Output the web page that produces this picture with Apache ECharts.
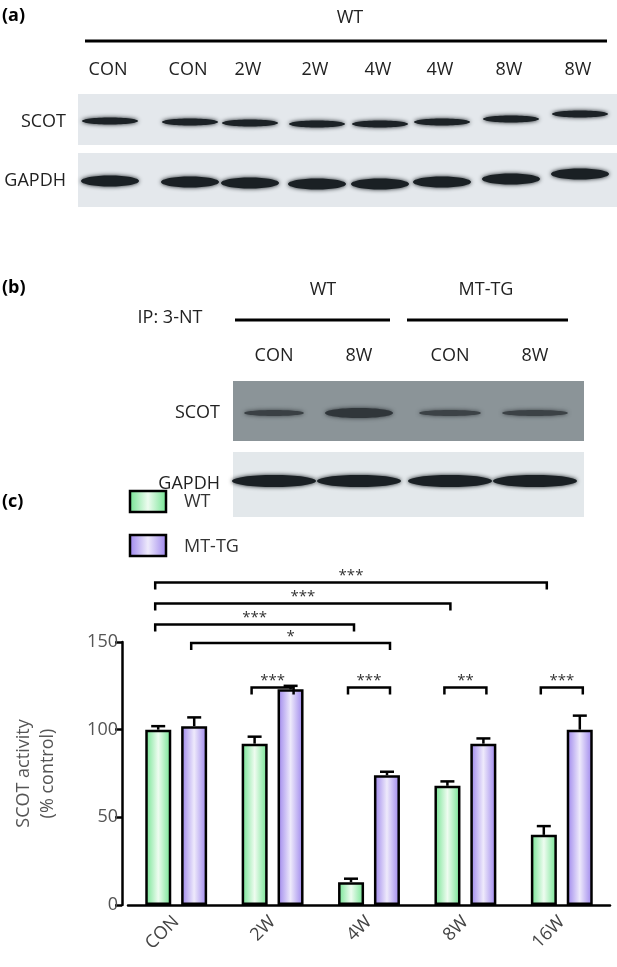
<!DOCTYPE html>
<html>
<head>
<meta charset="utf-8">
<script src="https://cdn.jsdelivr.net/npm/echarts@6/dist/echarts.min.js"></script>
<style>html,body{margin:0;padding:0;background:#fff}#main{width:617px;height:967px}</style>
</head>
<body>
<div id="main"></div>
<script>
// data
var categories = ['CON', '2W', '4W', '8W', '16W'];
var wtMean = [100, 92, 13, 68, 40];
var wtErr = [2, 4, 2, 2.5, 5];
var tgMean = [102, 123, 74, 92, 100];
var tgErr = [5, 2, 2, 3, 8];
var yTicks = [0, 50, 100, 150];
// brackets: [fromCat, fromSeries(0 WT / 1 TG), toCat, toSeries, y value, label]
var brackets = [
  [0, 0, 4, 0, 184, '***'],
  [0, 0, 3, 0, 172, '***'],
  [0, 0, 2, 0, 160, '***'],
  [0, 1, 2, 1, 149.5, '*'],
  [1, 0, 1, 1, 124, '***'],
  [2, 0, 2, 1, 124, '***'],
  [3, 0, 3, 1, 124, '**'],
  [4, 0, 4, 1, 124, '***']
];
var blotA = ['CON', 'CON', '2W', '2W', '4W', '4W', '8W', '8W'];
var blotB = ['CON', '8W', 'CON', '8W'];

var FONT = '"Open Sans", "Noto Sans", sans-serif';
var chart = echarts.init(document.getElementById('main'));

function grad(edge, mid) {
  return new echarts.graphic.LinearGradient(0, 0, 1, 0, [
    {offset: 0, color: edge}, {offset: 0.5, color: mid}, {offset: 1, color: edge}
  ]);
}
var green = grad('#6fe38f', '#eefcf0');
var purple = grad('#9a82ec', '#eeeafb');

// blot drawing helpers
var g = [];
function txt(x, y, s, opt) {
  opt = opt || {};
  g.push({type: 'text', x: x, y: y, style: {text: s, fill: opt.fill || '#222', fontFamily: FONT,
    fontWeight: opt.weight || 'normal', fontSize: opt.size || 18, align: opt.align || 'center', verticalAlign: 'middle'}});
}
function line(x1, y1, x2, y2, w) {
  g.push({type: 'line', shape: {x1: x1, y1: y1, x2: x2, y2: y2}, style: {stroke: '#000', lineWidth: w || 3}});
}
function rect(x, y, w, h, fill) {
  g.push({type: 'rect', shape: {x: x, y: y, width: w, height: h}, style: {fill: fill}});
}
function band(cx, cy, w, h, color) {
  g.push({type: 'ellipse', shape: {cx: cx, cy: cy, rx: w / 2, ry: h / 2}, style: {fill: color, shadowBlur: 4, shadowColor: color}});
}

// panel (a)
txt(2, 16, '(a)', {weight: 'bold', align: 'left', size: 18, fill: '#000'});
txt(350, 18, 'WT');
line(85, 41, 607, 41);
var aX = [108, 188, 248, 315, 378, 440, 509, 578];
var aScotY = [121, 122, 123, 124, 124, 122, 119, 114];
blotA.forEach(function (s, i) { txt(aX[i], 70, s); });
rect(78, 94, 539, 51, '#e4e8ec');
rect(78, 153, 539, 54, '#e4e8ec');
txt(66, 122, 'SCOT', {align: 'right'});
txt(66, 181, 'GAPDH', {align: 'right'});
aX.forEach(function (x, i) {
  band(x + 2, aScotY[i], 56, 7, '#1c2226');
  band(x + 2, aScotY[i] + 60, 58, 11, '#1a2024');
});

// panel (b)
txt(2, 288, '(b)', {weight: 'bold', align: 'left', size: 18, fill: '#000'});
txt(323, 290, 'WT');
txt(486, 290, 'MT-TG');
txt(170, 318, 'IP: 3-NT');
line(235, 320, 390, 320);
line(407, 320, 568, 320);
var bX = [274, 359, 450, 535];
blotB.forEach(function (s, i) { txt(bX[i], 356, s); });
rect(233, 381, 351, 60, '#8b9498');
rect(233, 452, 351, 65, '#e3e8eb');
txt(220, 413, 'SCOT', {align: 'right'});
txt(220, 484, 'GAPDH', {align: 'right'});
var bScot = [[60, 6, '#3a4044'], [68, 10, '#30363a'], [62, 6, '#3c4246'], [66, 6, '#3c4246']];
bX.forEach(function (x, i) {
  band(x, 413, bScot[i][0], bScot[i][1], bScot[i][2]);
  band(x, 481, 84, 12, '#1a2024');
});

// panel (c) labels + legend
txt(2, 502, '(c)', {weight: 'bold', align: 'left', size: 18, fill: '#000'});
g.push({type: 'rect', shape: {x: 130, y: 491, width: 36, height: 21}, style: {fill: green, stroke: '#000', lineWidth: 2.5}});
g.push({type: 'rect', shape: {x: 130, y: 535, width: 36, height: 21}, style: {fill: purple, stroke: '#000', lineWidth: 2.5}});
txt(184, 502, 'WT', {align: 'left', fill: '#333'});
txt(184, 547, 'MT-TG', {align: 'left', fill: '#333'});

var OFF = 18;
function errSeries(mean, err, side) {
  return {
    type: 'custom',
    z: 1,
    data: mean.map(function (m, i) { return [i, m, m + err[i]]; }),
    renderItem: function (params, api) {
      var p0 = api.coord([api.value(0), api.value(1)]);
      var p1 = api.coord([api.value(0), api.value(2)]);
      var x = p0[0] + side * OFF;
      return {type: 'group', children: [
        {type: 'line', shape: {x1: x, y1: p0[1], x2: x, y2: p1[1]}, style: {stroke: '#000', lineWidth: 2.5}},
        {type: 'line', shape: {x1: x - 7, y1: p1[1], x2: x + 7, y2: p1[1]}, style: {stroke: '#000', lineWidth: 2.5}}
      ]};
    }
  };
}

var option = {
  animation: false,
  graphic: g,
  grid: {left: 128, right: 7, top: 642, bottom: 62},
  xAxis: {
    type: 'category', data: categories,
    axisLine: {lineStyle: {color: '#000', width: 2.5}},
    axisTick: {alignWithLabel: true, length: 10, lineStyle: {color: '#000', width: 2.5}},
    axisLabel: {rotate: 45, color: '#444', fontSize: 18, fontFamily: FONT, margin: 14}
  },
  yAxis: {
    type: 'value', min: 0, max: 150, interval: 50, offset: 6,
    name: 'SCOT activity\n(% control)', nameLocation: 'middle', nameGap: 62,
    nameTextStyle: {color: '#555', fontSize: 18, fontFamily: FONT, lineHeight: 24},
    axisLine: {show: true, lineStyle: {color: '#000', width: 2.5}},
    axisTick: {show: true, length: 7, lineStyle: {color: '#000', width: 2.5}},
    axisLabel: {color: '#555', fontSize: 18, fontFamily: FONT, margin: 4,
      formatter: function (v) { return yTicks.indexOf(v) >= 0 ? v : ''; }},
    splitLine: {show: false}
  },
  series: [
    errSeries(wtMean, wtErr, -1),
    errSeries(tgMean, tgErr, 1),
    {type: 'bar', name: 'WT', data: wtMean, barWidth: 26, barGap: '38%', z: 2,
      itemStyle: {color: green, borderColor: '#000', borderWidth: 2.5}},
    {type: 'bar', name: 'MT-TG', data: tgMean, barWidth: 26, z: 2,
      itemStyle: {color: purple, borderColor: '#000', borderWidth: 2.5}},
    {
      type: 'custom', clip: false, z: 3,
      data: brackets,
      renderItem: function (params, api) {
        var b = brackets[params.dataIndex];
        var a = api.coord([b[0], b[4]]);
        var c = api.coord([b[2], b[4]]);
        var x1 = a[0] + (b[1] ? OFF : -OFF) - 3;
        var x2 = c[0] + (b[3] ? OFF : -OFF) + 3;
        var y = a[1];
        return {type: 'group', children: [
          {type: 'polyline', shape: {points: [[x1, y + 7], [x1, y], [x2, y], [x2, y + 7]]}, style: {stroke: '#000', fill: null, lineWidth: 2.5}},
          {type: 'text', x: (x1 + x2) / 2, y: y + 1, style: {text: b[5], fontSize: 15, fontFamily: FONT, fill: '#333', align: 'center', verticalAlign: 'bottom'}}
        ]};
      }
    }
  ]
};
chart.setOption(option);
</script>
</body>
</html>
